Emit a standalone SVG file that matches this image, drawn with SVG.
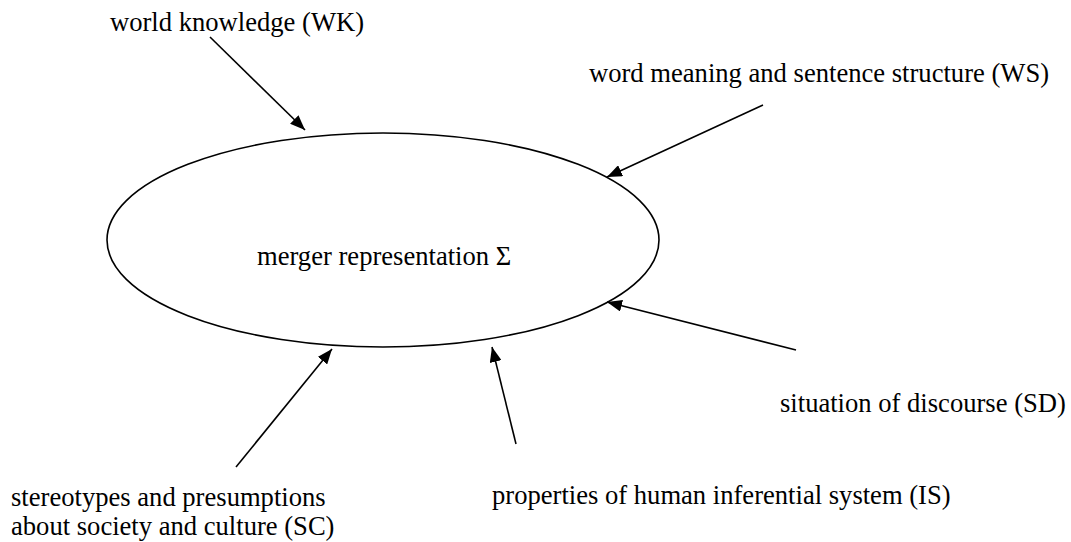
<svg xmlns="http://www.w3.org/2000/svg" width="1071" height="542" viewBox="0 0 1071 542">
<style>
text{font-family:"Liberation Serif","Times New Roman",serif;font-size:26.6px;fill:#000}
.c line{stroke:#000;stroke-width:1.6;marker-end:url(#ah)}
</style>
<defs>
<marker id="ah" viewBox="0 0 15 12" refX="15" refY="6" markerWidth="15" markerHeight="12" markerUnits="userSpaceOnUse" orient="auto"><path d="M0,0 L15,6 L0,12 z" fill="#000"/></marker>
</defs>
<rect width="1071" height="542" fill="#fff"/>
<g id="merger">
<ellipse cx="383" cy="240" rx="276" ry="107" fill="none" stroke="#000" stroke-width="1.6"/>
<text x="257" y="265">merger representation Σ</text>
</g>
<g id="wk"><text x="110" y="31">world knowledge (WK)</text></g>
<g id="ws"><text x="589" y="82">word meaning and sentence structure (WS)</text></g>
<g id="sd"><text x="780" y="412">situation of discourse (SD)</text></g>
<g id="is"><text x="492" y="504">properties of human inferential system (IS)</text></g>
<g id="sc"><text x="11" y="506">stereotypes and presumptions</text><text x="11" y="535">about society and culture (SC)</text></g>
<g class="c" id="connectors">
<line x1="210" y1="37" x2="305" y2="130"/>
<line x1="763" y1="105" x2="607" y2="177"/>
<line x1="796" y1="350" x2="607" y2="302"/>
<line x1="236" y1="467" x2="332" y2="349"/>
<line x1="516" y1="444" x2="492" y2="347"/>
</g>
</svg>
